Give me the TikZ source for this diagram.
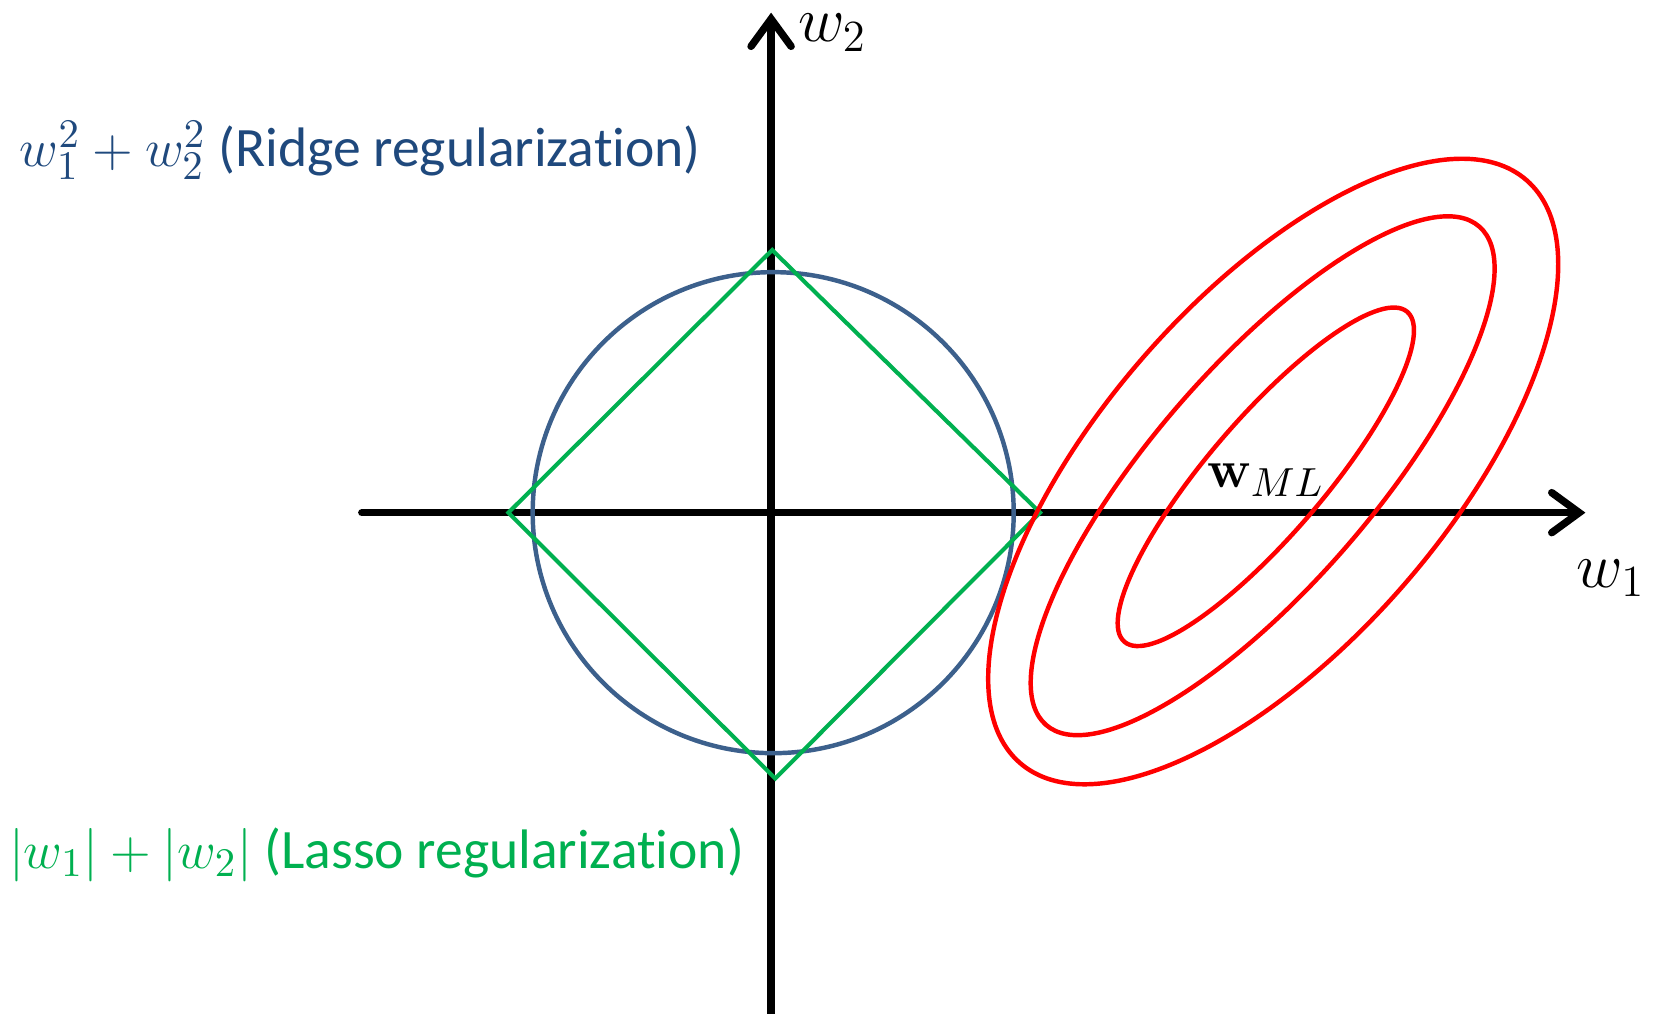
\documentclass[tikz,border=0pt]{standalone}
\usepackage[no-math]{fontspec}
\setmainfont{Carlito}[Ligatures=NoCommon]
\usetikzlibrary{arrows.meta}

\definecolor{ridgeline}{RGB}{60,96,140}
\definecolor{ridgetext}{RGB}{31,73,125}
\definecolor{lassogreen}{RGB}{0,176,80}

\begin{document}
\begin{tikzpicture}[
  axis/.style={line width=2pt, line cap=round, -{Straight Barb[length=2.6mm, width=3.8mm, line cap=round]}},
  ridge/.style={draw=ridgeline, line width=1.2pt},
  lasso/.style={draw=lassogreen, line width=1.1pt, line join=miter},
  contour/.style={draw=red, line width=1.2pt},
  every node/.style={font=\fontsize{15}{18}\selectfont, inner sep=0pt}
]
  \useasboundingbox (-7.31,-4.75) rectangle (8.37,4.86);

  % axes
  \coordinate (xlo) at (-3.88,0);
  \coordinate (xhi) at (7.72,0);
  \coordinate (ylo) at (0,-4.85);
  \coordinate (yhi) at (0,4.74);
  \draw[axis] (xlo) -- (xhi);
  \draw[axis] (ylo) -- (yhi);
  \node[font=\fontsize{17}{20}\selectfont] (w1) at (7.96,-0.62) {\(w_1\)};
  \node[font=\fontsize{17}{20}\selectfont] (w2) at (0.58,4.55) {\(w_2\)};

  % constraint regions
  \draw[ridge] (0.02,0) circle (2.28);
  \draw[lasso] (-2.49,0) -- (0.01,2.49) -- (2.55,0) -- (0.04,-2.52) -- cycle;

  % error contours
  \draw[contour, rotate around={49.4:(4.69,0.34)}] (4.69,0.34) ellipse (2.06 and 0.55);
  \draw[contour, rotate around={49:(4.66,0.35)}] (4.66,0.35) ellipse (3.13 and 1.04);
  \draw[contour, rotate around={49:(4.76,0.39)}] (4.76,0.39) ellipse (3.66 and 1.64);
  \node (wml) at (4.69,0.31) {\(\mathbf{w}_{ML}\)};

  % legends
  \node[anchor=base west, text=ridgetext] (ridgelbl) at (-7.13,3.28)
    {\(w_1^2+w_2^2\) (Ridge regularization)};
  \node[anchor=base west, text=lassogreen] (lassolbl) at (-7.23,-3.37)
    {\(|w_1|+|w_2|\) (Lasso regularization)};
\end{tikzpicture}
\end{document}
